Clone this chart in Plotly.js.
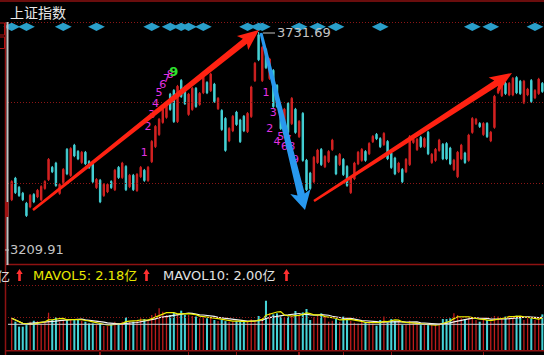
<!DOCTYPE html>
<html><head><meta charset="utf-8">
<script src="https://cdn.plot.ly/plotly-3.0.1.min.js"></script>
<style>html,body{margin:0;padding:0;background:#000;overflow:hidden}#chart{width:544px;height:355px}</style>
</head><body><div id="chart"></div>
<script>
// ---------- data ----------
const openP = [3330,3382,3360,3346,3322,3313,3343,3337,3330,3357,
 3378,3408,3418,3345,3371,3451,3388,3461,3446,3419,
 3444,3422,3415,3359,3377,3340,3349,3374,3354,3408,
 3383,3410,3361,3389,3352,3385,3401,3376,3421,3457,
 3486,3515,3527,3583,3592,3517,3616,3600,3534,3546,
 3597,3558,3586,3611,3591,3607,3548,3544,3525,3471,
 3495,3540,3521,3530,3493,3529,3615,3725,3615,3690,
 3620,3640,3604,3537,3510,3561,3512,3547,3481,3537,
 3425,3394,3373,3419,3451,3409,3421,3450,3434,3414,
 3427,3410,3347,3380,3416,3424,3446,3440,3469,3487,
 3477,3462,3470,3442,3430,3397,3403,3397,3414,3467,
 3450,3480,3457,3492,3419,3424,3448,3463,3465,3454,
 3402,3385,3428,3442,3424,3491,3512,3513,3486,3513,
 3471,3503,3586,3579,3609,3581,3581,3623,3614,3562,
 3581,3616,3574,3584,3609];
const closeP = [3374,3347,3340,3330,3292,3341,3325,3353,3362,3374,
 3427,3397,3364,3367,3403,3392,3453,3435,3428,3444,
 3416,3407,3373,3379,3325,3367,3367,3359,3401,3383,
 3418,3354,3389,3354,3391,3408,3376,3408,3470,3506,
 3523,3547,3559,3546,3517,3602,3577,3560,3583,3597,
 3553,3585,3626,3586,3631,3565,3573,3498,3448,3501,
 3530,3510,3469,3495,3537,3600,3657,3665,3695,3646,
 3667,3553,3553,3500,3547,3491,3573,3491,3518,3424,
 3354,3357,3432,3449,3414,3434,3446,3473,3392,3439,
 3390,3364,3384,3418,3444,3451,3424,3465,3482,3476,
 3457,3489,3428,3407,3392,3418,3373,3427,3482,3475,
 3475,3457,3477,3440,3439,3451,3473,3428,3428,3416,
 3425,3444,3461,3419,3485,3525,3523,3505,3513,3481,
 3492,3578,3597,3609,3584,3609,3621,3586,3584,3614,
 3595,3565,3592,3619,3589];
const highP = [3377,3385,3363,3349,3325,3344,3346,3356,3365,3377,
 3430,3411,3421,3370,3406,3454,3456,3464,3449,3447,
 3447,3425,3418,3382,3380,3370,3370,3377,3404,3411,
 3421,3413,3392,3392,3394,3411,3404,3411,3473,3509,
 3526,3550,3562,3586,3595,3605,3619,3603,3586,3600,
 3600,3588,3629,3614,3634,3610,3576,3547,3528,3504,
 3533,3543,3524,3533,3540,3603,3660,3731.69,3698,3693,
 3670,3643,3607,3540,3550,3564,3576,3550,3521,3540,
 3428,3397,3435,3452,3454,3437,3449,3476,3437,3442,
 3430,3413,3387,3421,3447,3454,3449,3468,3485,3490,
 3480,3492,3473,3445,3433,3421,3406,3430,3485,3478,
 3478,3483,3480,3495,3442,3454,3476,3466,3468,3457,
 3428,3447,3464,3445,3488,3528,3526,3516,3516,3516,
 3495,3581,3600,3612,3612,3612,3624,3626,3617,3617,
 3598,3619,3595,3622,3612];
const lowP = [3327,3344,3337,3327,3289,3310,3322,3334,3327,3354,
 3375,3394,3361,3342,3368,3389,3385,3432,3425,3416,
 3413,3404,3370,3356,3322,3337,3346,3356,3351,3380,
 3380,3351,3358,3351,3349,3382,3373,3373,3418,3454,
 3483,3512,3524,3543,3514,3514,3574,3557,3531,3543,
 3550,3555,3583,3583,3588,3562,3545,3495,3445,3468,
 3492,3507,3466,3492,3490,3526,3612,3662,3612,3643,
 3617,3550,3550,3497,3507,3488,3509,3488,3478,3421,
 3351,3354,3370,3416,3411,3406,3418,3447,3389,3411,
 3387,3361,3344,3377,3413,3421,3421,3437,3466,3473,
 3454,3459,3425,3404,3389,3394,3370,3394,3411,3464,
 3447,3454,3454,3437,3416,3421,3445,3425,3425,3413,
 3399,3382,3425,3416,3421,3488,3509,3502,3483,3478,
 3468,3500,3583,3576,3581,3578,3578,3583,3581,3559,
 3578,3562,3571,3581,3586];
// volume in 亿
const volume = [2.08,1.86,1.54,1.54,1.64,1.86,1.92,1.90,1.75,1.86,
 2.44,1.97,2.14,1.86,1.97,1.97,2.03,2.03,1.97,1.92,
 1.86,1.75,1.75,1.64,1.75,1.58,1.58,1.69,1.86,1.75,
 1.86,2.14,1.86,1.86,1.90,2.08,2.03,1.97,2.29,2.40,
 2.72,2.50,2.29,2.29,2.44,2.33,2.57,2.29,2.29,2.23,
 2.19,2.08,2.19,2.08,2.14,1.97,1.90,1.97,1.90,1.86,
 1.86,1.90,1.86,1.86,1.86,2.01,1.86,2.23,2.08,3.21,
 2.40,2.33,2.40,2.19,2.12,2.19,2.23,2.55,2.25,2.46,
 2.68,1.97,2.14,2.25,2.40,2.19,1.86,1.92,2.03,1.86,
 2.19,2.08,1.90,1.80,1.75,1.86,1.80,1.86,1.75,1.60,
 1.97,2.19,1.80,2.03,1.90,1.86,1.64,1.64,1.92,1.75,
 1.75,1.64,1.64,1.64,1.64,1.64,1.75,2.03,2.03,2.08,
 2.40,2.29,2.08,2.03,2.08,2.14,1.97,1.86,1.97,1.97,
 1.86,2.23,2.19,2.08,2.19,2.25,2.23,2.25,2.19,1.97,
 2.08,2.08,1.97,2.03,2.33];
// signal diamonds (candle index)
const signalIdx = [0,4,14,23,38,43,46,48,52,64,67,68,78,83,88,100,125,130,142];
const signalLevel = 3744;
// TD sequence counts
const tdIdx   = [36,37,38,39,40,41,42,43,44, 69,70,71,72,73,74,75,76,77];
const tdPrice = [3442,3504,3533,3559,3586,3605,3619,3629,3634, 3586,3500,3538,3468,3480,3456,3473,3456,3425];
const tdLabel = ['1','2','3','4','5','6','7','8','9','1','2','3','4','5','6','7','8','9'];
const tdKind  = ['c','c','c','c','c','c','c','c','done','c','c','c','c','c','c','c','c','c'];
const monthTicks = [24,48,61,78,90,103,128];
const titleText = '上证指数';
const peakLabel = '3731.69';
const lowLabel = '3209.91';
const mavol5Text = 'MAVOL5: 2.18亿';
const mavol10Text = 'MAVOL10: 2.00亿';

// ---------- styling / geometry helpers ----------
const W = 544, H = 355;
const px = x => x / W;
const py = y => 1 - y / H;
const RED = '#d42222', CYAN = '#45d2d6';
const idx = openP.map((_, i) => i);

function movingAvg(arr, n) {
  return arr.map((_, i) => {
    const w = arr.slice(Math.max(0, i - n + 1), i + 1);
    return w.reduce((a, b) => a + b, 0) / w.length;
  });
}
function arrowPath(x0, y0, x1, y1, w0, w1, headLen, headHalf, notch) {
  const dx = x1 - x0, dy = y1 - y0, L = Math.hypot(dx, dy);
  const ux = dx / L, uy = dy / L, nx = -uy, ny = ux;
  const bx = x1 - ux * headLen, by = y1 - uy * headLen;
  const cx = bx - ux * notch, cy = by - uy * notch;
  const pts = [
    [x0 + nx * w0 / 2, y0 + ny * w0 / 2],
    [bx + nx * w1 / 2, by + ny * w1 / 2],
    [cx + nx * headHalf, cy + ny * headHalf],
    [x1, y1],
    [cx - nx * headHalf, cy - ny * headHalf],
    [bx - nx * w1 / 2, by - ny * w1 / 2],
    [x0 - nx * w0 / 2, y0 - ny * w0 / 2]
  ];
  return 'M' + pts.map(p => px(p[0]).toFixed(5) + ',' + py(p[1]).toFixed(5)).join(' L') + ' Z';
}
function hline(y, x0, x1, color, width, dash) {
  return {type:'line', xref:'paper', yref:'paper', x0:px(x0), x1:px(x1), y0:py(y), y1:py(y),
          line:{color:color, width:width, dash:dash||'solid'}};
}
function vline(x, y0, y1, color, width) {
  return {type:'line', xref:'paper', yref:'paper', x0:px(x), x1:px(x), y0:py(y0), y1:py(y1),
          line:{color:color, width:width}};
}
function arrowShape(path, color) {
  return {type:'path', xref:'paper', yref:'paper', path:path, fillcolor:color, line:{width:0}, layer:'above'};
}

const isUp = closeP.map((c, i) => c >= openP[i]);
const volColors = isUp.map(u => u ? '#c01c1c' : CYAN);
const volWidths = isUp.map(u => u ? 0.35 : 0.55);

const traces = [
  {type:'candlestick', x:idx, open:openP, high:highP, low:lowP, close:closeP,
   xaxis:'x', yaxis:'y', whiskerwidth:0,
   increasing:{line:{color:RED, width:1}, fillcolor:RED},
   decreasing:{line:{color:CYAN, width:1}, fillcolor:CYAN},
   hoverinfo:'skip'},
  {type:'scatter', mode:'markers', x:signalIdx, y:signalIdx.map(() => signalLevel),
   xaxis:'x', yaxis:'y', marker:{symbol:'diamond-wide', size:12, color:'#2a9fca', line:{width:0}},
   hoverinfo:'skip'},
  {type:'scatter', mode:'text', x:tdIdx, y:tdPrice, text:tdLabel, xaxis:'x', yaxis:'y',
   textposition:'middle center',
   textfont:{family:'DejaVu Sans', size:tdKind.map(k => k === 'done' ? 13 : 11),
             color:tdKind.map(k => k === 'done' ? '#2ee02e' : '#e232e2'),
             weight:tdKind.map(k => k === 'done' ? 700 : 400)},
   hoverinfo:'skip'},
  {type:'bar', x:idx, y:volume, xaxis:'x', yaxis:'y2', width:volWidths,
   marker:{color:volColors, line:{width:0}}, hoverinfo:'skip'},
  {type:'scatter', mode:'lines', x:idx, y:movingAvg(volume, 10), xaxis:'x', yaxis:'y2',
   line:{color:'#f2f2f2', width:1.2}, hoverinfo:'skip'},
  {type:'scatter', mode:'lines', x:idx, y:movingAvg(volume, 5), xaxis:'x', yaxis:'y2',
   line:{color:'#eeee00', width:1.2}, hoverinfo:'skip'}
];

const DR = '#8e1212', DOT = '#8c1616';
const shapes = [
  hline(1, 0, 544, DR, 1.5),
  hline(22.5, 8, 544, DOT, 1, '1px,2px'),
  hline(102.5, 8, 544, DOT, 1, '1px,2px'),
  hline(183.5, 8, 544, DOT, 1, '1px,2px'),
  hline(264.5, 5, 544, DR, 1.5),
  hline(285.5, 8, 544, DOT, 1, '1px,2px'),
  hline(317.5, 8, 544, DOT, 1, '1px,2px'),
  hline(324.3, 8, 544, '#d6d6d6', 1),
  hline(350.8, 5, 544, DR, 1.5),
  vline(5.5, 22, 355, DR, 1.5),
  vline(7.5, 22, 265, '#c2c2c2', 2),
  {type:'rect', xref:'paper', yref:'paper', x0:px(5), x1:px(8.5), y0:py(217), y1:py(202), fillcolor:'#a01212', line:{width:0}},
  {type:'rect', xref:'paper', yref:'paper', x0:px(-3), x1:px(4.5), y0:py(35), y1:py(23), fillcolor:'rgba(0,0,0,0)', line:{color:'#b01515', width:1}},
  {type:'rect', xref:'paper', yref:'paper', x0:px(-3), x1:px(4.5), y0:py(48.5), y1:py(37), fillcolor:'rgba(0,0,0,0)', line:{color:'#b01515', width:1}},
  hline(33, 263, 275, '#c4c4c4', 1),
  hline(250, 5, 9, '#c4c4c4', 1),
  arrowShape(arrowPath(33, 210, 259, 30, 2.5, 6.5, 18, 9, 3), '#ff2212'),
  arrowShape(arrowPath(261, 33, 305, 210, 3, 7.5, 16, 10.5, 3), '#2898ee'),
  arrowShape(arrowPath(314, 201, 512, 73, 2.5, 6.5, 19, 9, 3), '#ff2212'),
  arrowShape(arrowPath(19.5, 281, 19.5, 269, 2.6, 2.6, 5, 3.2, 0), '#ff3030'),
  arrowShape(arrowPath(146.5, 281, 146.5, 269, 2.6, 2.6, 5, 3.2, 0), '#ff3030'),
  arrowShape(arrowPath(286.5, 281, 286.5, 269, 2.6, 2.6, 5, 3.2, 0), '#ff3030')
];

const ann = (text, x, y, xanchor, font) => ({text:text, x:px(x), y:py(y), xref:'paper', yref:'paper',
  xanchor:xanchor, yanchor:'middle', showarrow:false, font:font, borderpad:0});
const annotations = [
  ann(titleText, 9, 12, 'left', {family:'Noto Sans CJK SC', size:14, color:'#e8e8e8'}),
  ann(peakLabel, 276, 33, 'left', {family:'DejaVu Sans', size:13, color:'#c4c4c4'}),
  ann(lowLabel, 9, 250, 'left', {family:'DejaVu Sans', size:13, color:'#c4c4c4'}),
  ann('亿', 11, 275, 'right', {family:'Noto Sans CJK SC', size:13, color:'#dcdcdc'}),
  ann(mavol5Text, 32, 275, 'left', {family:'DejaVu Sans, Noto Sans CJK SC', size:13, color:'#e8e800'}),
  ann(mavol10Text, 162, 275, 'left', {family:'DejaVu Sans, Noto Sans CJK SC', size:13, color:'#e2e2e2'})
];

const layout = {
  width:W, height:H, margin:{l:0, r:0, t:0, b:0, pad:0},
  paper_bgcolor:'#000', plot_bgcolor:'#000', showlegend:false, hovermode:false,
  boxgap:0.45,
  xaxis:{range:[-3.175, 144.45], anchor:'y2', showgrid:false, zeroline:false, showline:false,
         showticklabels:false, tickmode:'array', tickvals:monthTicks, ticks:'outside', ticklen:4,
         tickcolor:DR, tickwidth:1.5, rangeslider:{visible:false}, fixedrange:true},
  yaxis:{domain:[1 - 263/H, 1 - 22/H], range:[3178.8, 3755.6], showgrid:false, zeroline:false,
         showticklabels:false, showline:false, fixedrange:true},
  yaxis2:{domain:[1 - 351/H, 1 - 264/H], range:[-0.03, 5.58], showgrid:false, zeroline:false,
          showticklabels:false, showline:false, fixedrange:true},
  shapes:shapes, annotations:annotations
};
Plotly.newPlot('chart', traces, layout, {displayModeBar:false, staticPlot:true});
</script></body></html>
